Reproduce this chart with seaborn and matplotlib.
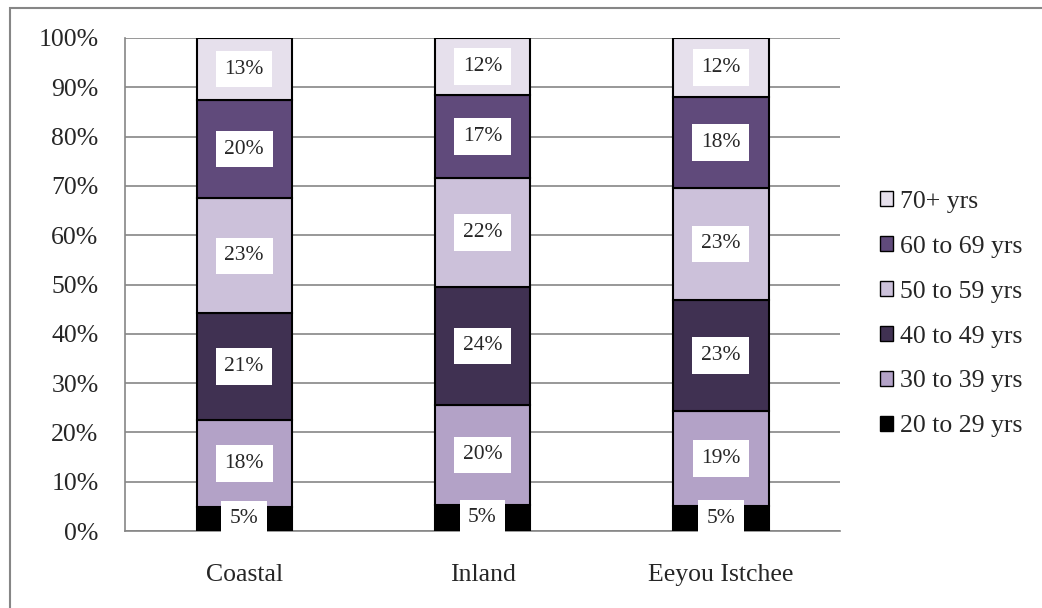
import numpy as np
import pandas as pd
import matplotlib
matplotlib.use("Agg")
import matplotlib.pyplot as plt
import seaborn as sns
from matplotlib.patches import Rectangle

# =========================
# DATA (percent of each region)
# =========================
regions = ["Coastal", "Inland", "Eeyou Istchee"]
age_groups = ["20 to 29 yrs", "30 to 39 yrs", "40 to 49 yrs",
              "50 to 59 yrs", "60 to 69 yrs", "70+ yrs"]

pct_20_29 = [4.9, 5.3, 5.1]
pct_30_39 = [17.6, 20.3, 19.2]
pct_40_49 = [21.7, 23.9, 22.6]
pct_50_59 = [23.3, 22.1, 22.7]
pct_60_69 = [19.9, 16.8, 18.4]
pct_70_plus = [12.6, 11.6, 12.0]

seg_labels = [
    ["5%", "5%", "5%"],
    ["18%", "20%", "19%"],
    ["21%", "24%", "23%"],
    ["23%", "22%", "23%"],
    ["20%", "17%", "18%"],
    ["13%", "12%", "12%"],
]

colors = ["#000000", "#B3A2C7", "#403152", "#CCC1DA", "#604A7B", "#E6E0EC"]

series = [pct_20_29, pct_30_39, pct_40_49, pct_50_59, pct_60_69, pct_70_plus]

# =========================
# CHART STYLE
# =========================
sns.set_style("white")
plt.rcParams["font.family"] = ["Liberation Serif", "DejaVu Serif"]

fig = plt.figure(figsize=(10.42, 6.08), dpi=100)
ax = fig.add_axes([125 / 1042, 1 - 531 / 608, 715 / 1042, 493 / 608])

# outer chart border
fig.patches.append(Rectangle((10 / 1042, -0.05), 1.2, 1 - 8 / 608 + 0.05,
                             transform=fig.transFigure, fill=False,
                             edgecolor="#868686", linewidth=1.5))

bottom = np.zeros(len(regions))
for name, vals, col, labs in zip(age_groups, series, colors, seg_labels):
    df = pd.DataFrame({"region": regions, "pct": vals})
    sns.barplot(data=df, x="region", y="pct", color=col, bottom=bottom,
                width=0.4, edgecolor="black", linewidth=1.5,
                label=name, ax=ax, zorder=3, saturation=1)
    for i, (v, t) in enumerate(zip(vals, labs)):
        ax.text(i, bottom[i] + v / 2, t, ha="center", va="center",
                fontsize=15.5, zorder=5,
                bbox=dict(boxstyle="square,pad=0.4", fc="white", ec="none"))
    bottom = bottom + np.array(vals)

ax.set_xlim(-0.5, 2.5)
ax.set_ylim(0, 100)
ax.set_yticks(np.arange(0, 101, 10))
ax.set_yticklabels([f"{v}%" for v in range(0, 101, 10)], fontsize=18.5)
ax.set_xticks([0, 1, 2])
ax.set_xticklabels(regions, fontsize=18.5)
ax.set_xlabel("")
ax.set_ylabel("")

ax.yaxis.grid(True, color="#868686", linewidth=1.2, zorder=0)
ax.xaxis.grid(False)
for s in ["top", "right"]:
    ax.spines[s].set_visible(False)
for s in ["left", "bottom"]:
    ax.spines[s].set_color("#868686")
    ax.spines[s].set_linewidth(1.2)

# ticks: y outward on the left, x at category boundaries
ax.tick_params(axis="y", length=5, color="#868686", width=1.2, pad=14)
ax.tick_params(axis="x", length=0, pad=24)
ax.set_xticks([-0.5, 0.5, 1.5, 2.5], minor=True)
ax.tick_params(axis="x", which="minor", length=5, color="#868686", width=1.2)

handles, labels = ax.get_legend_handles_labels()
leg = ax.legend(handles[::-1], labels[::-1], loc="center left",
                bbox_to_anchor=(1 + 40 / 715, 0.44), frameon=False, fontsize=18.5,
                handlelength=0.52, handleheight=0.52, handletextpad=0.25,
                labelspacing=0.89, borderaxespad=0, borderpad=0)
for h in leg.legend_handles:
    h.set_edgecolor("black")
    h.set_linewidth(1.0)

plt.savefig("out.png", dpi=100)
print("saved out.png")
